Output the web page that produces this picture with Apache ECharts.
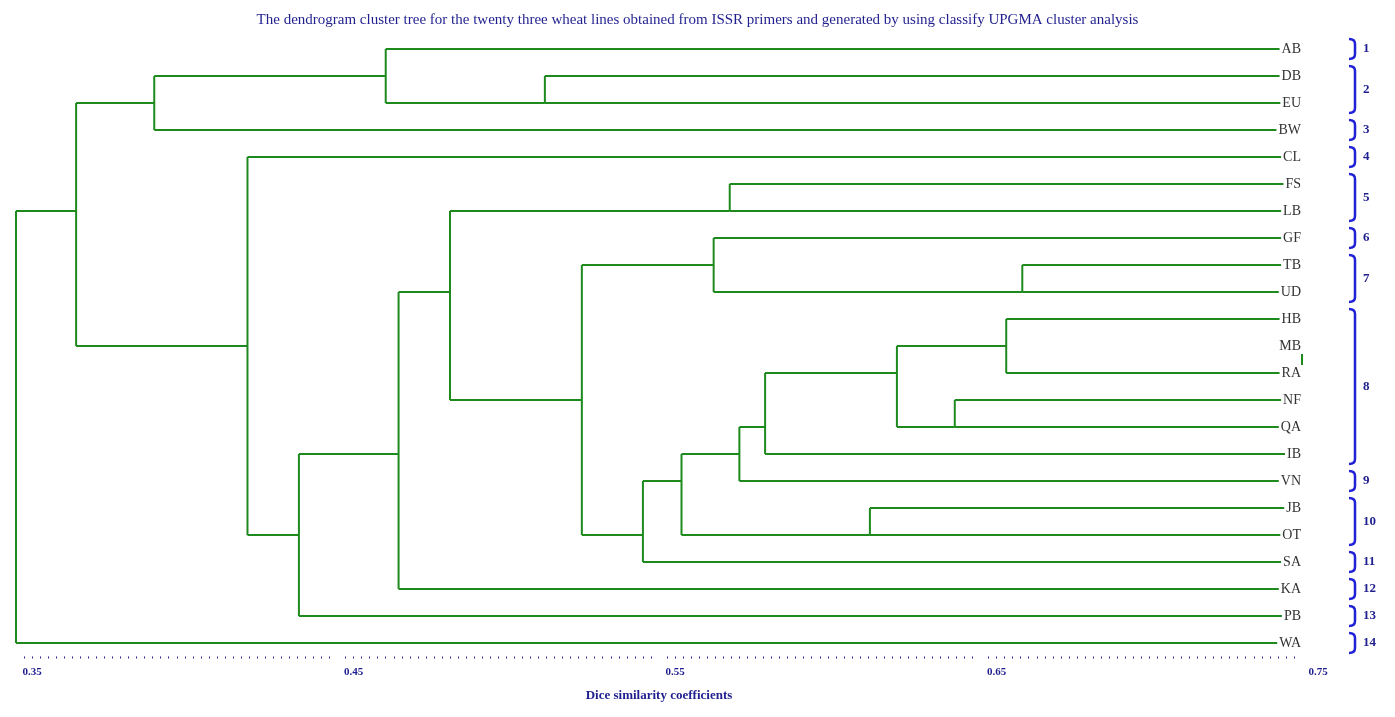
<!DOCTYPE html>
<html>
<head>
<meta charset="utf-8">
<script src="https://cdn.jsdelivr.net/npm/echarts@6/dist/echarts.min.js"></script>
<style>html,body{margin:0;padding:0;background:#fff}#main{width:1395px;height:717px}</style>
</head>
<body>
<div id="main"></div>
<script>
// leaves, top to bottom
var leaves = ['AB','DB','EU','BW','CL','FS','LB','GF','TB','UD','HB','MB','RA','NF','QA','IB','VN','JB','OT','SA','KA','PB','WA'];
// merges: [child A, child B, similarity]; new node ids start at leaves.length
var merges = [
	[1, 2, 0.5145], [0, 23, 0.465], [24, 3, 0.393], [11, 12, 0.75],
	[10, 26, 0.658], [13, 14, 0.642], [27, 28, 0.624], [29, 15, 0.583],
	[30, 16, 0.575], [17, 18, 0.6156], [31, 32, 0.557], [33, 19, 0.545],
	[8, 9, 0.663], [7, 35, 0.567], [36, 34, 0.526], [5, 6, 0.572],
	[38, 37, 0.485], [39, 20, 0.469], [40, 21, 0.438], [4, 41, 0.422],
	[25, 42, 0.3687], [43, 22, 0.35]
];
// cluster groups: [first leaf, last leaf, label]
var groups = [
	[0,0,'1'],[1,2,'2'],[3,3,'3'],[4,4,'4'],[5,6,'5'],[7,7,'6'],[8,9,'7'],
	[10,15,'8'],[16,16,'9'],[17,18,'10'],[19,19,'11'],[20,20,'12'],[21,21,'13'],[22,22,'14']
];
var leafX = 0.75;

// node positions
var nodes = leaves.map(function(n, i){ return {x: leafX, y: i}; });
var segs = [];
merges.forEach(function(m){
	var a = nodes[m[0]], b = nodes[m[1]], h = m[2];
	segs.push([a.x, a.y, h, a.y]);
	segs.push([b.x, b.y, h, b.y]);
	segs.push([h, a.y, h, b.y]);
	nodes.push({x: h, y: (a.y + b.y) / 2});
});

var green = '#1e8a1e', blue = '#2121d6', navy = '#1f1f8f';
var serif = '"Liberation Serif", "DejaVu Serif", serif';

var myChart = echarts.init(document.getElementById('main'));
myChart.setOption({
	animation: false,
	title: {
		text: 'The dendrogram cluster tree for the twenty three wheat lines obtained from ISSR primers and generated by using classify UPGMA cluster analysis',
		left: 'center', top: 8,
		textStyle: {fontFamily: serif, fontSize: 15, fontWeight: 'normal', color: navy}
	},
	grid: {left: 16, right: 93, top: 35.5, bottom: 60.5},
	xAxis: {
		type: 'value', min: 0.35, max: 0.75, interval: 0.1,
		name: 'Dice similarity coefficients', nameLocation: 'middle', nameGap: 33,
		nameTextStyle: {fontFamily: serif, fontSize: 13, fontWeight: 'bold', color: navy},
		axisLine: {lineStyle: {color: navy, type: 'dotted', width: 2}},
		axisTick: {lineStyle: {color: navy}, length: 3},
		minorTick: {show: true, splitNumber: 40, length: 2, lineStyle: {color: navy}},
		splitLine: {show: false},
		axisLabel: {fontFamily: serif, fontSize: 11, color: navy, fontWeight: 'bold', margin: 10, padding: [0, 0, 0, 32]}
	},
	yAxis: {
		type: 'category', data: leaves, inverse: true, show: false
	},
	series: [{
		type: 'custom',
		coordinateSystem: 'cartesian2d',
		data: segs,
		encode: {x: [0, 2], y: [1, 3]},
		renderItem: function(params, api){
			var p1 = api.coord([api.value(0), api.value(1)]);
			var p2 = api.coord([api.value(2), api.value(3)]);
			return {type: 'line', shape: {x1: p1[0], y1: p1[1], x2: p2[0], y2: p2[1]},
				style: {stroke: green, lineWidth: 2}};
		}
	}, {
		type: 'custom',
		coordinateSystem: 'cartesian2d',
		data: leaves.map(function(n, i){ return [leafX, i, n]; }),
		renderItem: function(params, api){
			var p = api.coord([api.value(0), api.value(1)]);
			return {type: 'text', z2: 10, style: {x: p[0] + 2, y: p[1], text: leaves[params.dataIndex],
				align: 'right', verticalAlign: 'middle', fontFamily: serif, fontSize: 14,
				fill: '#333', backgroundColor: '#fff', padding: [1, 3, 1, 2]}};
		}
	}, {
		type: 'custom',
		coordinateSystem: 'cartesian2d',
		data: groups.map(function(g){ return [leafX, g[0], g[1]]; }),
		renderItem: function(params, api){
			var g = groups[params.dataIndex];
			var p1 = api.coord([leafX, g[0]]);
			var p2 = api.coord([leafX, g[1]]);
			var x = p1[0] + 53, y1 = p1[1] - 10, y2 = p2[1] + 10, ym = (y1 + y2) / 2;
			var path = 'M' + (x - 6) + ' ' + y1 + ' Q' + x + ' ' + y1 + ' ' + x + ' ' + (y1 + 5) +
				' L' + x + ' ' + (y2 - 5) + ' Q' + x + ' ' + y2 + ' ' + (x - 6) + ' ' + y2;
			return {type: 'group', children: [
				{type: 'path', shape: {pathData: path}, style: {stroke: blue, lineWidth: 2.5, fill: null}},
				{type: 'text', style: {x: x + 8, y: ym, text: g[2], verticalAlign: 'middle',
					fontFamily: serif, fontSize: 13, fontWeight: 'bold', fill: navy}}
			]};
		}
	}]
});
</script>
</body>
</html>
